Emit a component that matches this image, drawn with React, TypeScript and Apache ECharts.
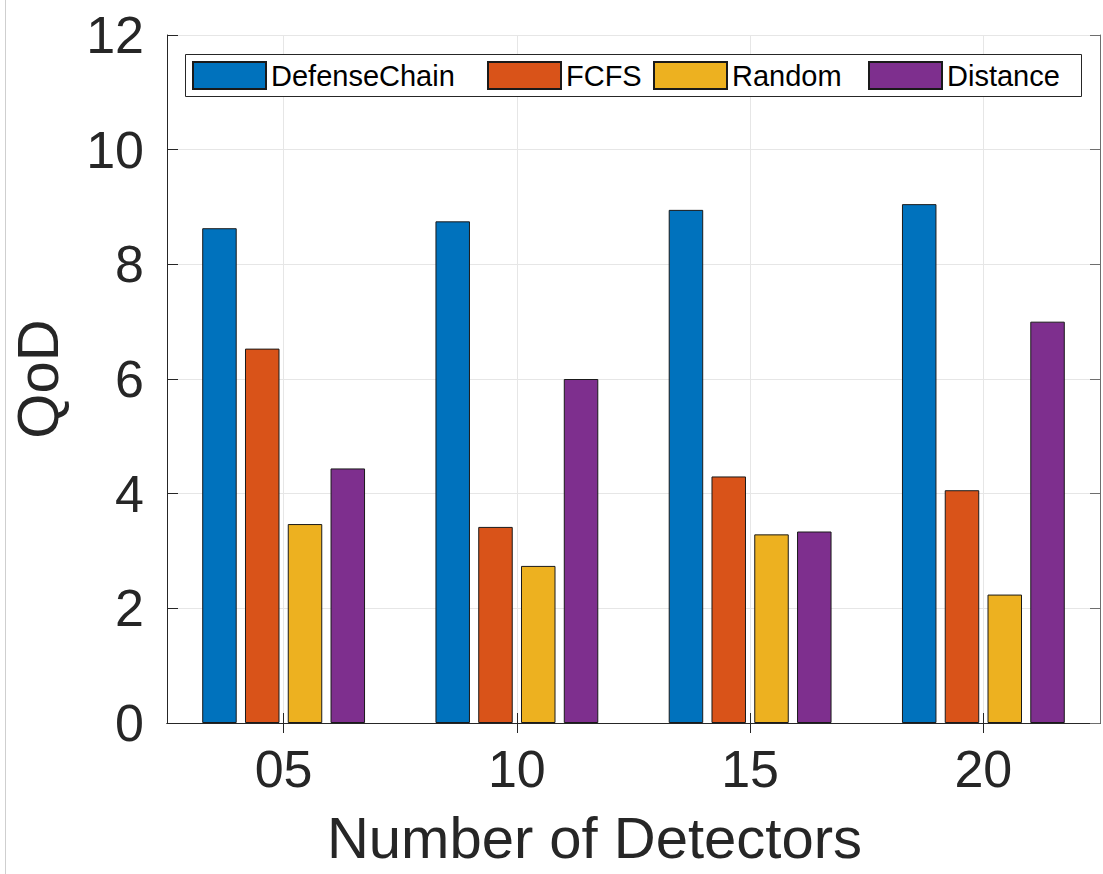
import React, { useEffect, useRef } from "react";
import * as echarts from "echarts";

const categories = ["05", "10", "15", "20"];
const seriesNames = ["DefenseChain", "FCFS", "Random", "Distance"];
const defenseChain = [8.63, 8.75, 8.95, 9.05];
const fcfs = [6.53, 3.42, 4.3, 4.06];
const random = [3.47, 2.74, 3.29, 2.24];
const distance = [4.44, 6.0, 3.34, 7.0];
const colors = ["#0072BD", "#D95319", "#EDB120", "#7E2F8E"];
const legendLefts = [192, 487, 653, 868];

const FONT = "'Liberation Sans', Arial, Helvetica, sans-serif";
const AX = "#262626";

export default function App() {
  const ref = useRef<HTMLDivElement>(null);
  useEffect(() => {
    if (!ref.current) return;
    const chart = echarts.init(ref.current, undefined, { renderer: "svg" });
    const values = [defenseChain, fcfs, random, distance];
    const option: any = {
      animation: false,
      backgroundColor: "#ffffff",
      textStyle: { fontFamily: FONT },
      grid: { left: 166, right: 3, top: 35, bottom: 151, containLabel: false },
      xAxis: [
        {
          type: "category",
          data: categories,
          position: "bottom",
          axisLine: { show: true, lineStyle: { color: AX, width: 1 } },
          axisTick: { show: true, inside: true, length: 10, alignWithLabel: true, lineStyle: { color: AX } },
          axisLabel: { fontSize: 52, color: AX, margin: 20, fontFamily: FONT },
          splitLine: { show: true, alignWithLabel: true, lineStyle: { color: "#e6e6e6", width: 1 } },
          name: "Number of Detectors",
          nameLocation: "middle",
          nameGap: 85,
          nameTextStyle: { fontSize: 58, color: AX, fontFamily: FONT, padding: [0, 78, 0, 0] },
        },
        {
          type: "category",
          data: categories,
          position: "top",
          axisLine: { show: true, lineStyle: { color: AX, width: 1 } },
          axisTick: { show: true, inside: true, length: 10, alignWithLabel: true, lineStyle: { color: AX } },
          axisLabel: { show: false },
          splitLine: { show: false },
        },
      ],
      yAxis: [
        {
          type: "value",
          min: 0,
          max: 12,
          interval: 2,
          position: "left",
          axisLine: { show: true, lineStyle: { color: AX, width: 1 } },
          axisTick: { show: true, inside: true, length: 11, lineStyle: { color: AX } },
          axisLabel: { fontSize: 52, color: AX, margin: 23, fontFamily: FONT },
          splitLine: { show: true, lineStyle: { color: "#e6e6e6", width: 1 } },
          name: "QoD",
          nameLocation: "middle",
          nameGap: 101,
          nameTextStyle: { fontSize: 58, color: AX, fontFamily: FONT },
        },
        {
          type: "value",
          min: 0,
          max: 12,
          interval: 2,
          position: "right",
          axisLine: { show: true, lineStyle: { color: "#6e6e6e", width: 1 } },
          axisTick: { show: true, inside: true, length: 10, lineStyle: { color: "#6e6e6e" } },
          axisLabel: { show: false },
          splitLine: { show: false },
        },
      ],
      legend: seriesNames.map((n, i) => ({
        data: [n],
        left: legendLefts[i],
        top: 61,
        padding: 0,
        z: 10,
        icon: "rect",
        itemWidth: 73,
        itemHeight: 27,
        textStyle: { fontSize: 29, color: "#000", fontFamily: FONT },
      })),
      graphic: [
        {
          type: "rect",
          z: 5,
          shape: { x: 185.5, y: 54.5, width: 896, height: 42 },
          style: { fill: "#ffffff", stroke: AX, lineWidth: 1 },
        },
        {
          type: "line",
          z: 5,
          shape: { x1: 5.5, y1: 0, x2: 5.5, y2: 874 },
          style: { stroke: "#cfcfcf", lineWidth: 1 },
        },
      ],
      series: seriesNames.map((n, i) => ({
        name: n,
        type: "bar",
        data: values[i],
        barWidth: 34.5,
        barGap: "24%",
        itemStyle: { color: colors[i], borderColor: "#1a1a1a", borderWidth: 1 },
      })),
    };
    chart.setOption(option);
    return () => chart.dispose();
  }, []);
  return (
    <div
      ref={ref}
      style={{ position: "fixed", left: 0, top: 0, width: 1103, height: 874, background: "#fff" }}
    />
  );
}
